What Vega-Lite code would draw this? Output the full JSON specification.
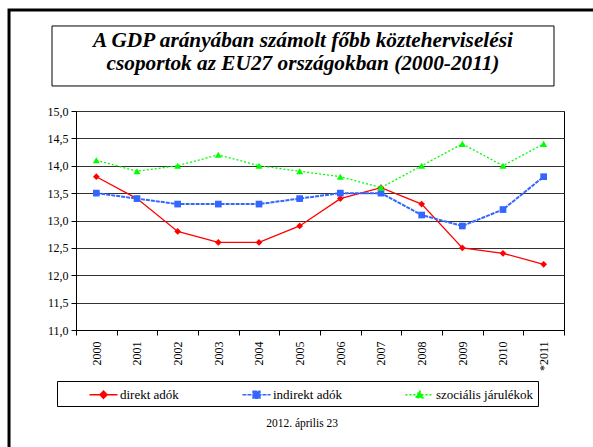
{
  "$schema": "https://vega.github.io/schema/vega-lite/v6.json",
  "width": 488,
  "height": 219,
  "autosize": {"type": "none"},
  "padding": {"left": 76, "top": 111, "right": 29, "bottom": 117},
  "background": "white",
  "config": {
    "view": {"stroke": "#000", "strokeWidth": 1},
    "font": "Liberation Serif",
    "axis": {"labelFont": "Liberation Serif", "labelFontSize": 12, "labelColor": "#000", "domainColor": "#000", "tickColor": "#000", "tickSize": 5}
  },
  "data": {"values": [
    {"year": 2000, "series": "direkt adók", "value": 13.8},
    {"year": 2001, "series": "direkt adók", "value": 13.4},
    {"year": 2002, "series": "direkt adók", "value": 12.8},
    {"year": 2003, "series": "direkt adók", "value": 12.6},
    {"year": 2004, "series": "direkt adók", "value": 12.6},
    {"year": 2005, "series": "direkt adók", "value": 12.9},
    {"year": 2006, "series": "direkt adók", "value": 13.4},
    {"year": 2007, "series": "direkt adók", "value": 13.6},
    {"year": 2008, "series": "direkt adók", "value": 13.3},
    {"year": 2009, "series": "direkt adók", "value": 12.5},
    {"year": 2010, "series": "direkt adók", "value": 12.4},
    {"year": 2011, "series": "direkt adók", "value": 12.2},
    {"year": 2000, "series": "indirekt adók", "value": 13.5},
    {"year": 2001, "series": "indirekt adók", "value": 13.4},
    {"year": 2002, "series": "indirekt adók", "value": 13.3},
    {"year": 2003, "series": "indirekt adók", "value": 13.3},
    {"year": 2004, "series": "indirekt adók", "value": 13.3},
    {"year": 2005, "series": "indirekt adók", "value": 13.4},
    {"year": 2006, "series": "indirekt adók", "value": 13.5},
    {"year": 2007, "series": "indirekt adók", "value": 13.5},
    {"year": 2008, "series": "indirekt adók", "value": 13.1},
    {"year": 2009, "series": "indirekt adók", "value": 12.9},
    {"year": 2010, "series": "indirekt adók", "value": 13.2},
    {"year": 2011, "series": "indirekt adók", "value": 13.8},
    {"year": 2000, "series": "szociális járulékok", "value": 14.1},
    {"year": 2001, "series": "szociális járulékok", "value": 13.9},
    {"year": 2002, "series": "szociális járulékok", "value": 14.0},
    {"year": 2003, "series": "szociális járulékok", "value": 14.2},
    {"year": 2004, "series": "szociális járulékok", "value": 14.0},
    {"year": 2005, "series": "szociális járulékok", "value": 13.9},
    {"year": 2006, "series": "szociális járulékok", "value": 13.8},
    {"year": 2007, "series": "szociális járulékok", "value": 13.6},
    {"year": 2008, "series": "szociális járulékok", "value": 14.0},
    {"year": 2009, "series": "szociális járulékok", "value": 14.4},
    {"year": 2010, "series": "szociális járulékok", "value": 14.0},
    {"year": 2011, "series": "szociális járulékok", "value": 14.4}
  ]},
  "layer": [
    {
      "data": {"values": [{}]},
      "mark": {"type": "rect", "fillOpacity": 0, "stroke": "#000", "strokeWidth": 3},
      "encoding": {
        "x": {"datum": 1997.853, "type": "quantitative", "scale": {"domain": [1999.5, 2011.5], "nice": false, "zero": false},
          "axis": {"values": [1999.5, 2000.5, 2001.5, 2002.5, 2003.5, 2004.5, 2005.5, 2006.5, 2007.5, 2008.5, 2009.5, 2010.5, 2011.5], "labelExpr": "datum.value > 2011 ? '' : datum.value > 2010 ? '*2011' : format(datum.value + 0.5, 'd')", "labelAngle": 270, "labelOffset": 20.33, "grid": false, "title": null, "tickSize": 5, "labelPadding": 6, "labelOverlap": false, "labelFlush": false, "labelBound": false, "labelFont": "Liberation Serif", "labelFontSize": 12, "labelColor": "#000", "domainColor": "#000", "tickColor": "#000"}},
        "x2": {"datum": 2012.877},
        "y": {"datum": 16.845, "type": "quantitative", "scale": {"domain": [11, 15], "nice": false, "zero": false},
          "axis": {"values": [11, 11.5, 12, 12.5, 13, 13.5, 14, 14.5, 15], "labelExpr": "replace(format(datum.value, '.1f'), '.', ',')", "title": null, "grid": true, "gridColor": "#333", "gridWidth": 1, "labelOverlap": false, "domainColor": "#000", "tickColor": "#000", "tickSize": 5, "labelFont": "Liberation Serif", "labelFontSize": 12, "labelColor": "#000", "labelPadding": 3}},
        "y2": {"datum": 8.443}
      }
    },
    {
      "data": {"values": [{}]},
      "mark": {"type": "rect", "fillOpacity": 0, "stroke": "#000", "strokeWidth": 1},
      "encoding": {
        "x": {"datum": 1998.91, "type": "quantitative", "scale": {"domain": [1999.5, 2011.5], "nice": false, "zero": false},
          "axis": {"values": [1999.5, 2000.5, 2001.5, 2002.5, 2003.5, 2004.5, 2005.5, 2006.5, 2007.5, 2008.5, 2009.5, 2010.5, 2011.5], "labelExpr": "datum.value > 2011 ? '' : datum.value > 2010 ? '*2011' : format(datum.value + 0.5, 'd')", "labelAngle": 270, "labelOffset": 20.33, "grid": false, "title": null, "tickSize": 5, "labelPadding": 6, "labelOverlap": false, "labelFlush": false, "labelBound": false, "labelFont": "Liberation Serif", "labelFontSize": 12, "labelColor": "#000", "domainColor": "#000", "tickColor": "#000"}},
        "x2": {"datum": 2011.254},
        "y": {"datum": 16.553, "type": "quantitative", "scale": {"domain": [11, 15], "nice": false, "zero": false},
          "axis": {"values": [11, 11.5, 12, 12.5, 13, 13.5, 14, 14.5, 15], "labelExpr": "replace(format(datum.value, '.1f'), '.', ',')", "title": null, "grid": true, "gridColor": "#333", "gridWidth": 1, "labelOverlap": false, "domainColor": "#000", "tickColor": "#000", "tickSize": 5, "labelFont": "Liberation Serif", "labelFontSize": 12, "labelColor": "#000", "labelPadding": 3}},
        "y2": {"datum": 15.457}
      }
    },
    {
      "data": {"values": [{}]},
      "mark": {"type": "text", "font": "Liberation Serif", "fontSize": 21.3, "fontStyle": "italic", "fontWeight": "bold",
        "lineHeight": 23, "baseline": "alphabetic", "align": "center", "color": "#000",
        "text": ["A GDP arányában számolt főbb közteherviselési", "csoportok az EU27 országokban (2000-2011)"]},
      "encoding": {
        "x": {"datum": 2005.082, "type": "quantitative", "scale": {"domain": [1999.5, 2011.5], "nice": false, "zero": false},
          "axis": {"values": [1999.5, 2000.5, 2001.5, 2002.5, 2003.5, 2004.5, 2005.5, 2006.5, 2007.5, 2008.5, 2009.5, 2010.5, 2011.5], "labelExpr": "datum.value > 2011 ? '' : datum.value > 2010 ? '*2011' : format(datum.value + 0.5, 'd')", "labelAngle": 270, "labelOffset": 20.33, "grid": false, "title": null, "tickSize": 5, "labelPadding": 6, "labelOverlap": false, "labelFlush": false, "labelBound": false, "labelFont": "Liberation Serif", "labelFontSize": 12, "labelColor": "#000", "domainColor": "#000", "tickColor": "#000"}},
        "y": {"datum": 16.169, "type": "quantitative", "scale": {"domain": [11, 15], "nice": false, "zero": false},
          "axis": {"values": [11, 11.5, 12, 12.5, 13, 13.5, 14, 14.5, 15], "labelExpr": "replace(format(datum.value, '.1f'), '.', ',')", "title": null, "grid": true, "gridColor": "#333", "gridWidth": 1, "labelOverlap": false, "domainColor": "#000", "tickColor": "#000", "tickSize": 5, "labelFont": "Liberation Serif", "labelFontSize": 12, "labelColor": "#000", "labelPadding": 3}}
      }
    },
    {
      "data": {"values": [{}]},
      "mark": {"type": "text", "font": "Liberation Serif", "fontSize": 11.5, "color": "#000", "text": "2012. április 23"},
      "encoding": {
        "x": {"datum": 2005.06, "type": "quantitative", "scale": {"domain": [1999.5, 2011.5], "nice": false, "zero": false},
          "axis": {"values": [1999.5, 2000.5, 2001.5, 2002.5, 2003.5, 2004.5, 2005.5, 2006.5, 2007.5, 2008.5, 2009.5, 2010.5, 2011.5], "labelExpr": "datum.value > 2011 ? '' : datum.value > 2010 ? '*2011' : format(datum.value + 0.5, 'd')", "labelAngle": 270, "labelOffset": 20.33, "grid": false, "title": null, "tickSize": 5, "labelPadding": 6, "labelOverlap": false, "labelFlush": false, "labelBound": false, "labelFont": "Liberation Serif", "labelFontSize": 12, "labelColor": "#000", "domainColor": "#000", "tickColor": "#000"}},
        "y": {"datum": 9.283, "type": "quantitative", "scale": {"domain": [11, 15], "nice": false, "zero": false},
          "axis": {"values": [11, 11.5, 12, 12.5, 13, 13.5, 14, 14.5, 15], "labelExpr": "replace(format(datum.value, '.1f'), '.', ',')", "title": null, "grid": true, "gridColor": "#333", "gridWidth": 1, "labelOverlap": false, "domainColor": "#000", "tickColor": "#000", "tickSize": 5, "labelFont": "Liberation Serif", "labelFontSize": 12, "labelColor": "#000", "labelPadding": 3}}
      }
    },
    {
      "encoding": {
        "x": {"field": "year", "type": "quantitative", "scale": {"domain": [1999.5, 2011.5], "nice": false, "zero": false},
          "axis": {"values": [1999.5, 2000.5, 2001.5, 2002.5, 2003.5, 2004.5, 2005.5, 2006.5, 2007.5, 2008.5, 2009.5, 2010.5, 2011.5], "labelExpr": "datum.value > 2011 ? '' : datum.value > 2010 ? '*2011' : format(datum.value + 0.5, 'd')", "labelAngle": 270, "labelOffset": 20.33, "grid": false, "title": null, "tickSize": 5, "labelPadding": 6, "labelOverlap": false, "labelFlush": false, "labelBound": false, "labelFont": "Liberation Serif", "labelFontSize": 12, "labelColor": "#000", "domainColor": "#000", "tickColor": "#000"}},
        "y": {"field": "value", "type": "quantitative", "scale": {"domain": [11, 15], "nice": false, "zero": false},
          "axis": {"values": [11, 11.5, 12, 12.5, 13, 13.5, 14, 14.5, 15], "labelExpr": "replace(format(datum.value, '.1f'), '.', ',')", "title": null, "grid": true, "gridColor": "#333", "gridWidth": 1, "labelOverlap": false, "domainColor": "#000", "tickColor": "#000", "tickSize": 5, "labelFont": "Liberation Serif", "labelFontSize": 12, "labelColor": "#000", "labelPadding": 3}},
        "color": {"field": "series", "type": "nominal",
          "scale": {"domain": ["direkt adók", "indirekt adók", "szociális járulékok"], "range": ["#FF0000", "#3366FF", "#00FF00"]},
          "legend": {"orient": "none", "legendX": -19, "legendY": 270, "direction": "horizontal", "columns": 3,
            "title": null, "strokeColor": "#000", "padding": 4, "fillColor": "#fff",
            "labelFont": "Liberation Serif", "labelFontSize": 13, "labelColor": "#000",
            "symbolSize": 289, "symbolOffset": 33, "labelOffset": 7, "columnPadding": 35, "labelLimit": 300,
            "labelExpr": "datum.label === 'szociális járulékok' ? datum.label + '\u00a0\u00a0\u00a0\u00a0\u00a0\u00a0\u00a0\u00a0\u00a0\u00a0\u00a0\u00a0\u00a0\u00a0' : datum.label",
            "encode": {"symbols": {"update": {
              "shape": {"signal": "datum.value === 'direkt adók' ? 'M-1.65,0L1.65,0M0,-0.42L0.42,0L0,0.42L-0.42,0Z' : datum.value === 'indirekt adók' ? 'M-1.65,0L1.65,0M-0.4,-0.4L0.4,-0.4L0.4,0.4L-0.4,0.4Z' : 'M-1.65,0L1.65,0M0,-0.48L0.45,0.36L-0.45,0.36Z'"},
              "stroke": {"signal": "scale('color', datum.value)"},
              "fill": {"signal": "scale('color', datum.value)"},
              "strokeDash": {"signal": "datum.value === 'indirekt adók' ? [4,1] : datum.value === 'szociális járulékok' ? [2,2] : [1,0]"},
              "strokeWidth": {"value": 1.5},
              "opacity": {"value": 1}
            }}}}}
      },
      "layer": [
        {
          "transform": [{"filter": "datum.series === 'direkt adók'"}],
          "layer": [
            {"mark": {"type": "line", "strokeWidth": 1.3}},
            {"mark": {"type": "point", "filled": true, "opacity": 1, "size": 45, "shape": "diamond"}}
          ]
        },
        {
          "transform": [{"filter": "datum.series === 'indirekt adók'"}],
          "layer": [
            {"mark": {"type": "line", "strokeWidth": 2, "strokeDash": [4, 1]}},
            {"mark": {"type": "point", "filled": true, "opacity": 1, "size": 45, "shape": "square"}}
          ]
        },
        {
          "transform": [{"filter": "datum.series === 'szociális járulékok'"}],
          "layer": [
            {"mark": {"type": "line", "strokeWidth": 1.3, "strokeDash": [2, 2]}},
            {"mark": {"type": "point", "filled": true, "opacity": 1, "size": 50, "shape": "triangle-up"}}
          ]
        }
      ]
    }
  ]
}
